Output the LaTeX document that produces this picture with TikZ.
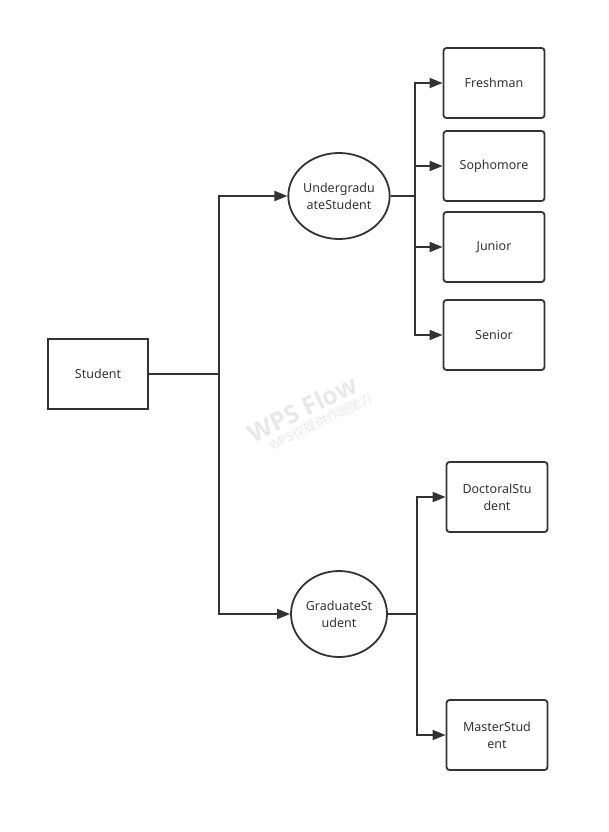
\documentclass[tikz,border=0pt]{standalone}
\usepackage{fontspec}
\setmainfont{Noto Sans}
\newfontfamily\cjkwm{Noto Sans CJK SC}
\newfontfamily\wmbold{Open Sans}
\usetikzlibrary{shapes.geometric,arrows.meta}
\definecolor{ln}{HTML}{333333}
\definecolor{wm}{HTML}{E8E8E8}
\tikzset{
  base/.style={draw=ln, line width=1.8pt, text=ln, font=\fontsize{12.5}{17}\selectfont, align=center, inner sep=0pt},
  sqbox/.style={base, rectangle, minimum width=100pt, minimum height=70pt},
  rbox/.style={base, rectangle, rounded corners=3pt, minimum width=101pt, minimum height=70pt},
  oval/.style={base, ellipse, minimum width=96pt, minimum height=86pt},
  conn/.style={draw=ln, line width=1.8pt},
  arr/.style={conn, -{Triangle[length=13pt,width=10pt]}},
}
\begin{document}
\begin{tikzpicture}[x=1pt,y=-1pt]
\useasboundingbox (0,0) rectangle (609,832);
% watermark
\node[text=wm, rotate=26, align=center, inner sep=0pt] (wm1) at (306,416)
  {{\wmbold\bfseries\fontsize{25}{24}\selectfont WPS Flow}\\[3pt]
   {\cjkwm\fontsize{12.5}{14}\selectfont\hspace*{22pt}WPS仅提供作图能力}};
% nodes
\node[sqbox] (stu) at (98,374) {Student};
\node[oval] (ug) at (339,196) {Undergradu\\ateStudent};
\node[oval] (gr) at (339,614) {GraduateSt\\udent};
\node[rbox] (fr) at (494,83) {Freshman};
\node[rbox] (so) at (494,166) {Sophomore};
\node[rbox] (ju) at (494,247) {Junior};
\node[rbox] (se) at (494,335) {Senior};
\node[rbox] (dr) at (497,497) {DoctoralStu\\dent};
\node[rbox] (ms) at (497,735) {MasterStud\\ent};
% junctions
\coordinate (j1) at (219,374);
\coordinate (j2) at (415,196);
\coordinate (j3) at (417,614);
% connectors
\draw[conn] (stu.east) -- (j1);
\draw[arr] (j1) |- (ug.west);
\draw[arr] (j1) |- (gr.west);
\draw[conn] (ug.east) -- (j2);
\draw[arr] (j2) |- (fr.west);
\draw[arr] (j2) |- (so.west);
\draw[arr] (j2) |- (ju.west);
\draw[arr] (j2) |- (se.west);
\draw[conn] (gr.east) -- (j3);
\draw[arr] (j3) |- (dr.west);
\draw[arr] (j3) |- (ms.west);
\end{tikzpicture}
\end{document}
